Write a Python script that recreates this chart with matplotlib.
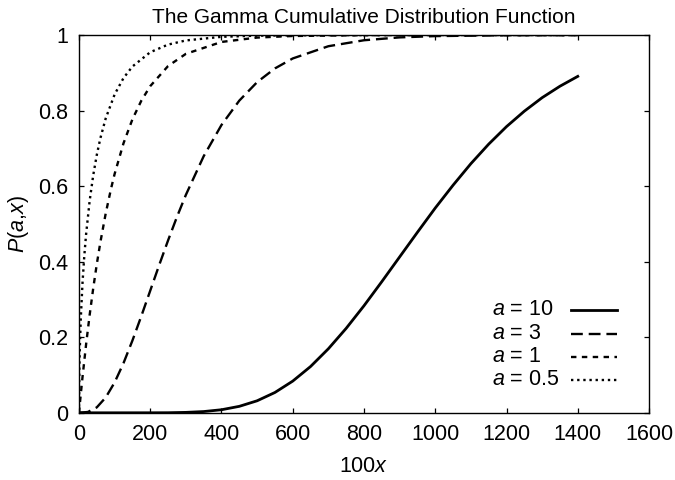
import matplotlib
matplotlib.use("Agg")
import matplotlib.pyplot as plt

plt.rcParams["font.family"] = ["Liberation Sans", "DejaVu Sans"]
plt.rcParams["mathtext.fontset"] = "custom"
plt.rcParams["mathtext.rm"] = "Liberation Sans"
plt.rcParams["mathtext.it"] = "Liberation Sans:italic"

# values (x in units of 100x)
x_a10 = [0, 100, 200, 250, 300, 350, 400, 450, 500, 550, 600, 650, 700, 750, 800,
         850, 900, 950, 1000, 1050, 1100, 1150, 1200, 1250, 1300, 1350, 1400]
p_a10 = [0, 0.0, 0.00005, 0.0002, 0.0011, 0.0033, 0.0081, 0.0171, 0.0318, 0.0538,
         0.0839, 0.1225, 0.1695, 0.2236, 0.2834, 0.3472, 0.4126, 0.4779, 0.5421,
         0.6025, 0.6595, 0.7112, 0.7576, 0.7984, 0.8342, 0.8645, 0.8906]

x_a3 = [0, 25, 50, 75, 100, 125, 150, 175, 200, 225, 250, 275, 300, 350, 400, 450,
        500, 550, 600, 700, 800, 900, 1000, 1200, 1400]
p_a3 = [0, 0.0022, 0.0144, 0.0405, 0.0803, 0.1315, 0.1912, 0.2560, 0.3233, 0.3907,
        0.4562, 0.5186, 0.5768, 0.6792, 0.7619, 0.8264, 0.8753, 0.9116, 0.9380,
        0.9704, 0.9862, 0.9938, 0.9972, 0.9995, 0.9999]

x_a1 = [0, 5, 10, 20, 30, 40, 50, 60, 75, 90, 100, 125, 150, 175, 200, 250, 300,
        400, 500, 600, 800, 1000, 1400]
p_a1 = [0, 0.0488, 0.0952, 0.1813, 0.2592, 0.3297, 0.3935, 0.4512, 0.5276, 0.5934,
        0.6321, 0.7135, 0.7769, 0.8262, 0.8647, 0.9179, 0.9502, 0.9817, 0.9933,
        0.9975, 0.9997, 1.0, 1.0]

x_a05 = [0, 1, 2, 5, 10, 15, 20, 30, 40, 50, 60, 75, 100, 125, 150, 200, 250, 300,
         400, 500, 700, 1000, 1400]
p_a05 = [0, 0.1125, 0.1585, 0.2482, 0.3453, 0.4161, 0.4729, 0.5614, 0.6289, 0.6827,
         0.7266, 0.7793, 0.8427, 0.8862, 0.9167, 0.9545, 0.9747, 0.9857, 0.9953,
         0.9984, 0.9998, 1.0, 1.0]

labels = ["$a$ = 10", "$a$ = 3", "$a$ = 1", "$a$ = 0.5"]
x_ticks = [0, 200, 400, 600, 800, 1000, 1200, 1400, 1600]
y_ticks = [0, 0.2, 0.4, 0.6, 0.8, 1]
y_tick_labels = ["0", "0.2", "0.4", "0.6", "0.8", "1"]

fs = 15.5

fig = plt.figure(figsize=(6.75, 4.8), dpi=100)
ax = fig.add_axes([0.117, 0.140, 0.8445, 0.787])

series = [(x_a10, p_a10), (x_a3, p_a3), (x_a1, p_a1), (x_a05, p_a05)]
styles = [dict(lw=2.0, ls="-"),
          dict(lw=1.7, ls=(0, (5, 2.5))),
          dict(lw=1.7, ls=(0, (2.3, 2.3))),
          dict(lw=1.7, ls=(0, (1, 1.6)))]

rows_y = [0.2725, 0.209, 0.148, 0.087]
for (xs, ps), st, lab, ry in zip(series, styles, labels, rows_y):
    ax.plot(xs, ps, color="black", **st)
    # gnuplot-style key: text on the left, sample on the right
    ax.text(0.7246, ry, lab, transform=ax.transAxes, fontsize=fs,
            ha="left", va="center")
    ax.plot([0.863, 0.944], [ry, ry], transform=ax.transAxes, color="black", **st)

ax.set_xlim(0, 1600)
ax.set_ylim(0, 1)
ax.set_xticks(x_ticks)
ax.set_xticklabels([str(t) for t in x_ticks])
ax.set_yticks(y_ticks)
ax.set_yticklabels(y_tick_labels)
ax.tick_params(direction="in", length=3.8, width=0.9, top=True, right=True,
               labelsize=fs)
ax.tick_params(axis="x", pad=8)
ax.tick_params(axis="y", pad=8)
for s in ax.spines.values():
    s.set_linewidth(1.0)

ax.set_xlabel("100$x$", fontsize=fs, labelpad=8)
ax.set_ylabel("$P$($a$,$x$)", fontsize=fs, labelpad=5)
ax.set_title("The Gamma Cumulative Distribution Function", fontsize=15, pad=9)

fig.savefig("out.png", dpi=100)
plt.close(fig)
